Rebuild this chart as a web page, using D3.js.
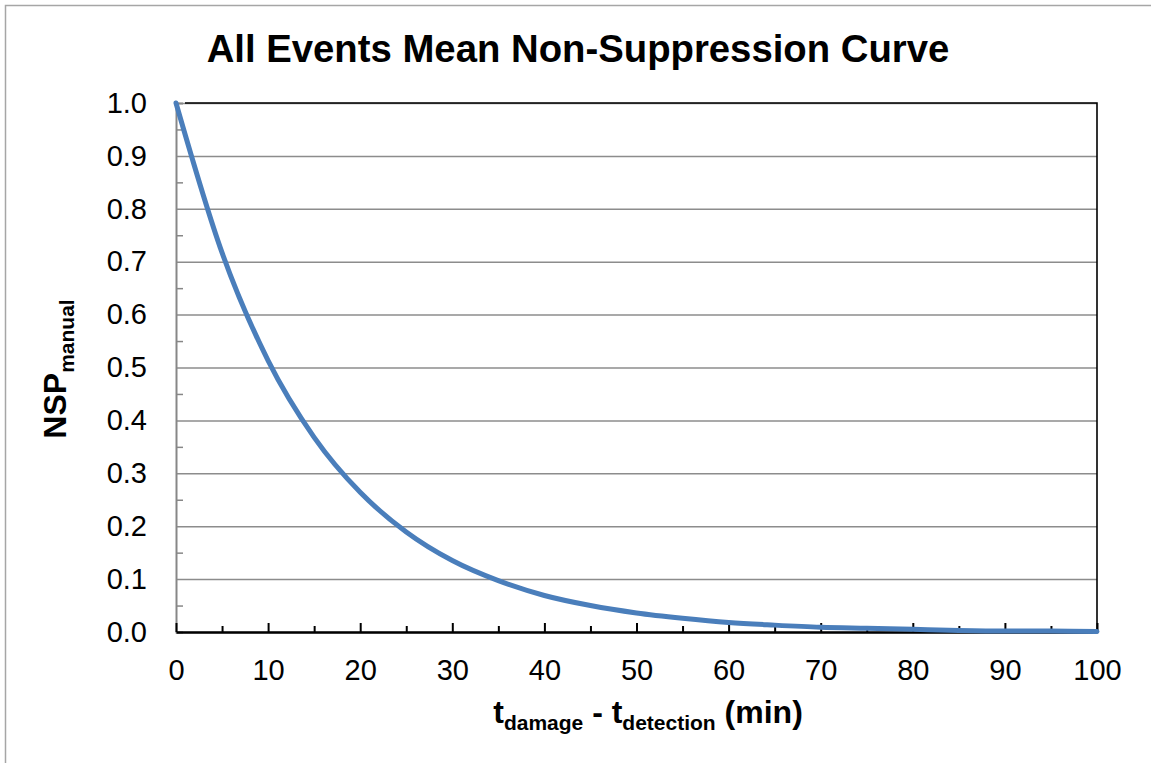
<!DOCTYPE html>
<html lang="en">
<head>
  <meta charset="UTF-8">
  <title>All Events Mean Non-Suppression Curve</title>
  <script src="https://d3js.org/d3.v7.min.js"></script>
  <style>
    body { margin: 0; background: #fff; }
    svg { font-family: "Liberation Sans", Arial, sans-serif; }
  </style>
</head>
<body>
  <svg width="1151" height="763"></svg>

  <script>
    // Values (every 5 minutes)
    const minutes = [0, 5, 10, 15, 20, 25, 30, 35, 40, 45, 50, 55, 60, 65, 70, 75, 80, 85, 90, 95, 100];
    const nspValues = [1.000, 0.717, 0.513, 0.368, 0.264, 0.189, 0.135, 0.097, 0.069, 0.050, 0.036,
                       0.026, 0.018, 0.013, 0.009, 0.007, 0.005, 0.003, 0.002, 0.002, 0.001];
    const xTicks = [0, 10, 20, 30, 40, 50, 60, 70, 80, 90, 100];
    const xMinorTicks = [5, 15, 25, 35, 45, 55, 65, 75, 85, 95];
    const yTicks = [0, 0.1, 0.2, 0.3, 0.4, 0.5, 0.6, 0.7, 0.8, 0.9, 1.0];
    const yMinorTicks = [0.05, 0.15, 0.25, 0.35, 0.45, 0.55, 0.65, 0.75, 0.85, 0.95];

    const svg = d3.select("svg");

    // Plot area
    const plotLeft = 176, plotRight = 1097, plotTop = 103, plotBottom = 632;

    const x = d3.scaleLinear().domain([0, 100]).range([plotLeft, plotRight]);
    const y = d3.scaleLinear().domain([0, 1]).range([plotBottom, plotTop]);

    // Outer chart frame
    svg.append("rect")
      .attr("x", 5.5).attr("y", 5.5)
      .attr("width", 1200).attr("height", 900)
      .attr("fill", "none")
      .attr("stroke", "#a6a6a6")
      .attr("stroke-width", 1.5);

    // Title
    svg.append("text")
      .attr("x", 578).attr("y", 62)
      .attr("text-anchor", "middle")
      .attr("font-size", 38.3)
      .attr("font-weight", "bold")
      .text("All Events Mean Non-Suppression Curve");

    // Horizontal gridlines
    svg.append("g")
      .attr("transform", `translate(${plotLeft},0)`)
      .call(d3.axisLeft(y).tickValues(yTicks).tickSize(-(plotRight - plotLeft)).tickFormat(""))
      .call(g => g.select(".domain").remove())
      .call(g => g.selectAll(".tick line").attr("stroke", "#8c8c8c").attr("stroke-width", 1.5));

    // Plot border (top and right)
    svg.append("path")
      .attr("d", `M${plotLeft + 9},${plotTop}H${plotRight}V${plotBottom}`)
      .attr("fill", "none")
      .attr("stroke", "#000")
      .attr("stroke-width", 1.6);

    // Y axis: minor ticks inside, labels outside
    svg.append("g")
      .attr("transform", `translate(${plotLeft},0)`)
      .call(d3.axisRight(y).tickValues(yMinorTicks).tickSize(7).tickFormat(""))
      .call(g => g.select(".domain").attr("stroke", "#878787").attr("stroke-width", 2))
      .call(g => g.selectAll(".tick line").attr("stroke", "#878787").attr("stroke-width", 1.5));

    svg.append("g")
      .attr("transform", `translate(${plotLeft},0)`)
      .call(d3.axisLeft(y).tickValues(yTicks).tickSize(0).tickPadding(29).tickFormat(d3.format(".1f")))
      .call(g => g.select(".domain").remove())
      .call(g => g.selectAll(".tick text").attr("font-size", 29).attr("fill", "#000")
        .attr("font-family", "Liberation Sans, Arial, sans-serif"));

    // X axis: ticks inside (upward)
    svg.append("g")
      .attr("transform", `translate(0,${plotBottom})`)
      .call(d3.axisTop(x).tickValues(xMinorTicks).tickSize(6).tickFormat(""))
      .call(g => g.select(".domain").remove())
      .call(g => g.selectAll(".tick line").attr("stroke", "#000").attr("stroke-width", 2));

    svg.append("g")
      .attr("transform", `translate(0,${plotBottom})`)
      .call(d3.axisTop(x).tickValues(xTicks).tickSize(9).tickFormat(""))
      .call(g => g.select(".domain").remove())
      .call(g => g.selectAll(".tick line").attr("stroke", "#000").attr("stroke-width", 2));

    svg.append("g")
      .attr("transform", `translate(0,${plotBottom})`)
      .call(d3.axisBottom(x).tickValues(xTicks).tickSize(0).tickPadding(27.5))
      .call(g => g.select(".domain").attr("stroke", "#000").attr("stroke-width", 2.4))
      .call(g => g.selectAll(".tick text").attr("font-size", 29).attr("fill", "#000")
        .attr("font-family", "Liberation Sans, Arial, sans-serif"));

    // Curve
    const line = d3.line()
      .x((d, i) => x(minutes[i]))
      .y(d => y(d))
      .curve(d3.curveMonotoneX);

    svg.append("path")
      .datum(nspValues)
      .attr("d", line)
      .attr("fill", "none")
      .attr("stroke", "#4a7ebb")
      .attr("stroke-width", 5)
      .attr("stroke-linecap", "round");

    // Axis titles
    const xTitle = svg.append("text")
      .attr("x", 648).attr("y", 723)
      .attr("text-anchor", "middle")
      .attr("font-size", 32)
      .attr("font-weight", "bold");
    xTitle.append("tspan").text("t");
    xTitle.append("tspan").attr("font-size", 21).attr("dy", 7).text("damage");
    xTitle.append("tspan").attr("dy", -7).text(" - t");
    xTitle.append("tspan").attr("font-size", 21).attr("dy", 7).text("detection");
    xTitle.append("tspan").attr("dy", -7).text(" (min)");

    const yTitle = svg.append("text")
      .attr("transform", "translate(66,369) rotate(-90)")
      .attr("text-anchor", "middle")
      .attr("font-size", 32)
      .attr("font-weight", "bold");
    yTitle.append("tspan").text("NSP");
    yTitle.append("tspan").attr("font-size", 21).attr("dy", 8).text("manual");
  </script>
</body>
</html>
